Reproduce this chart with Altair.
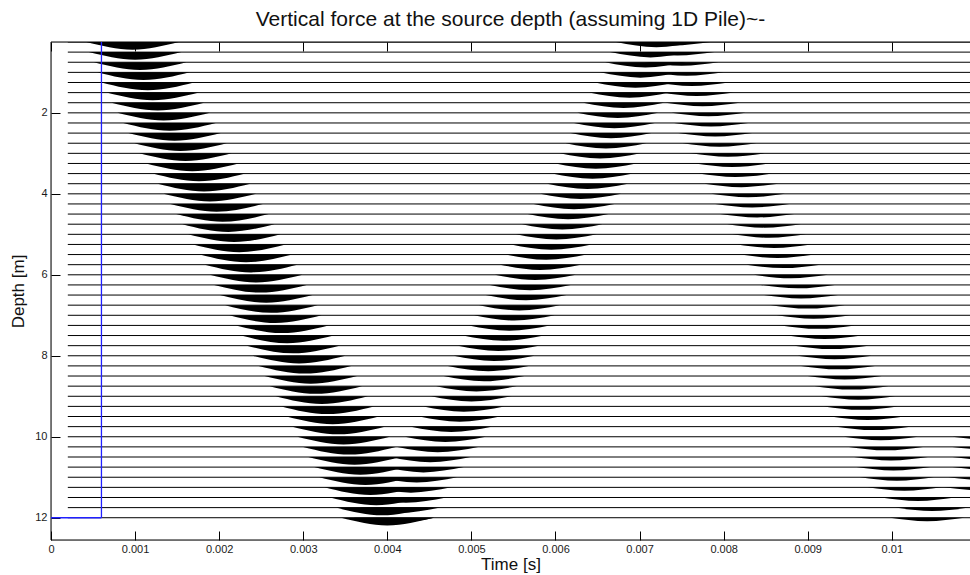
import altair as alt
import pandas as pd

# ---------------- data ----------------
depths = [0.25, 0.5, 0.75, 1.0, 1.25, 1.5, 1.75, 2.0, 2.25, 2.5, 2.75, 3.0,
          3.25, 3.5, 3.75, 4.0, 4.25, 4.5, 4.75, 5.0, 5.25, 5.5, 5.75, 6.0,
          6.25, 6.5, 6.75, 7.0, 7.25, 7.5, 7.75, 8.0, 8.25, 8.5, 8.75, 9.0,
          9.25, 9.5, 9.75, 10.0, 10.25, 10.5, 10.75, 11.0, 11.25, 11.5, 11.75, 12.0]

# peak time (ms) of the direct down-going pulse on each trace
down1_ms = [0.97, 1.00, 1.06, 1.10, 1.15, 1.21, 1.27, 1.34, 1.41, 1.47, 1.54, 1.60,
            1.68, 1.76, 1.82, 1.89, 1.97, 2.04, 2.11, 2.18, 2.24, 2.32, 2.38, 2.44,
            2.49, 2.56, 2.62, 2.67, 2.75, 2.81, 2.88, 2.95, 3.02, 3.09, 3.15, 3.22,
            3.29, 3.35, 3.42, 3.48, 3.55, 3.61, 3.68, 3.74, 3.80, 3.87, 3.94, 4.00]

# peak time (ms) of the up-going reflection
up1_ms = [7.20, 7.13, 7.07, 7.01, 6.95, 6.88, 6.81, 6.74, 6.70, 6.66, 6.60, 6.53,
          6.48, 6.44, 6.38, 6.30, 6.22, 6.15, 6.08, 6.01, 5.95, 5.89, 5.82, 5.76,
          5.70, 5.65, 5.57, 5.51, 5.45, 5.38, 5.32, 5.27, 5.20, 5.15, 5.06, 5.00,
          4.91, 4.86, 4.76, 4.69, 4.60, 4.51, 4.43, 4.35, 4.28, 4.22, 4.15, 4.08]

# peak time (ms) of the second down-going pulse
down2_ms = [7.40, 7.45, 7.50, 7.56, 7.62, 7.68, 7.75, 7.82, 7.85, 7.90, 7.95, 8.05,
            8.10, 8.14, 8.21, 8.29, 8.34, 8.40, 8.48, 8.54, 8.60, 8.64, 8.71, 8.80,
            8.88, 8.92, 9.00, 9.07, 9.12, 9.20, 9.28, 9.32, 9.36, 9.44, 9.52, 9.60,
            9.63, 9.71, 9.78, 9.87, 9.93, 9.99, 10.02, 10.06, 10.15, 10.31, 10.48, 10.42]

# second up-going pulse (only its onset is inside the window)
up2_depths = [10.0, 10.25, 10.5, 10.75, 11.0, 11.25]
up2_ms = [11.20, 11.20, 11.20, 11.20, 11.15, 11.10]

families = ["down1", "up1", "down2", "up2"]
half_width_ms = [0.55, 0.48, 0.44, 0.48]
lobe_depth_m = [0.19, 0.13, 0.085, 0.08]

trace_start_s = 0.0002
trace_end_s = 0.011
marker_time_s = 0.0006
marker_depth_m = 12.0

x_ticks = [0, 0.001, 0.002, 0.003, 0.004, 0.005, 0.006, 0.007, 0.008, 0.009, 0.01]
y_ticks = [2, 4, 6, 8, 10, 12]
x_domain = [0, 0.01093]
y_domain = [0.25, 12.55]

title_text = "Vertical force at the source depth (assuming 1D Pile)~-"

# ---------------- tables ----------------
series = {
    "down1": (depths, down1_ms),
    "up1": (depths, up1_ms),
    "down2": (depths, down2_ms),
    "up2": (up2_depths, up2_ms),
}
rows = []
lid = 0
for fam, hw, amp in zip(families, half_width_ms, lobe_depth_m):
    ds, ps = series[fam]
    for d, p in zip(ds, ps):
        for t, a in ((p - hw, 0.0), (p, amp), (p + hw, 0.0)):
            rows.append({"lobe": lid, "t": t / 1000.0, "depth": d, "bottom": d + a})
        lid += 1
lobe_df = pd.DataFrame(rows)

trace_df = pd.DataFrame({"depth": depths,
                         "t0": [trace_start_s] * len(depths),
                         "t1": [trace_end_s] * len(depths)})
tick_df = pd.DataFrame({"t": x_ticks})
one = pd.DataFrame({"v": [0]})

FONT = "Liberation Sans"
xs = alt.Scale(domain=x_domain, nice=False, zero=False)
ys = alt.Scale(domain=y_domain, nice=False, zero=False, reverse=True)

x_bottom = alt.Axis(orient="bottom", values=x_ticks, format="~g", offset=-9, domain=False,
                    tickSize=9, tickColor="black", labelPadding=3, labelFontSize=11,
                    labelFont=FONT, labelColor="#1a1a1a", grid=False, labelFlush=False,
                    title="Time [s]", titleFont=FONT, titleFontSize=17,
                    titleFontWeight="normal", titleColor="#111", titlePadding=2)
x_top = alt.Axis(orient="top", values=x_ticks, offset=-9, domain=False, tickSize=9,
                 tickColor="black", labels=False, grid=False, title=None)
y_left = alt.Axis(orient="left", values=y_ticks, format="d", offset=-9, domain=False,
                  tickSize=9, tickColor="black", labelPadding=4, labelFontSize=11,
                  labelFont=FONT, labelColor="#1a1a1a", grid=False, labelFlush=False,
                  title="Depth [m]", titleFont=FONT, titleFontSize=17,
                  titleFontWeight="normal", titleColor="#111", titlePadding=7)

lobes = alt.Chart(lobe_df).mark_area(
    color="black", interpolate="monotone", orient="vertical"
).encode(
    x=alt.X("t:Q", scale=xs, axis=x_bottom),
    y=alt.Y("bottom:Q", scale=ys, axis=y_left),
    y2="depth:Q",
    detail="lobe:N",
)

traces = alt.Chart(trace_df).mark_rule(color="black", strokeWidth=1, clip=True).encode(
    x=alt.X("t0:Q", scale=xs, axis=None),
    x2="t1:Q",
    y=alt.Y("depth:Q", scale=ys, axis=y_left),
)

frame_left = alt.Chart(one).mark_rule(color="black", strokeWidth=1).encode(
    x=alt.X(datum=x_domain[0], scale=xs, axis=None))
frame_top = alt.Chart(one).mark_rule(color="black", strokeWidth=1).encode(
    y=alt.Y(datum=y_domain[0], scale=ys, axis=y_left))
frame_bottom = alt.Chart(one).mark_rule(color="black", strokeWidth=1).encode(
    y=alt.Y(datum=y_domain[1], scale=ys, axis=y_left))

marker_v = alt.Chart(one).mark_rule(color="#2020ff", strokeWidth=1.3).encode(
    x=alt.X(datum=marker_time_s, scale=xs, axis=None),
    y=alt.Y(datum=y_domain[0], scale=ys, axis=y_left),
    y2=alt.Y2(datum=marker_depth_m),
)
marker_h = alt.Chart(one).mark_rule(color="#2020ff", strokeWidth=1.3).encode(
    x=alt.X(datum=x_domain[0], scale=xs, axis=None),
    x2=alt.X2(datum=marker_time_s),
    y=alt.Y(datum=marker_depth_m, scale=ys, axis=y_left),
)

top_ticks = alt.Chart(tick_df).mark_point(opacity=0).encode(
    x=alt.X("t:Q", scale=xs, axis=x_top))

chart = alt.layer(
    lobes, traces, frame_left, frame_top, frame_bottom, marker_v, marker_h, top_ticks
).resolve_axis(x="independent").properties(
    width=919,
    height=498,
    padding={"left": 51, "top": 42, "right": 0, "bottom": 35},
    autosize=alt.AutoSizeParams(type="none"),
    title=alt.TitleParams(title_text, font=FONT, fontSize=21, fontWeight="normal",
                          color="#111", anchor="middle", offset=11),
).configure_view(stroke=None).configure(background="white")

chart.save("out.html", embed_options={"renderer": "svg", "actions": False})
